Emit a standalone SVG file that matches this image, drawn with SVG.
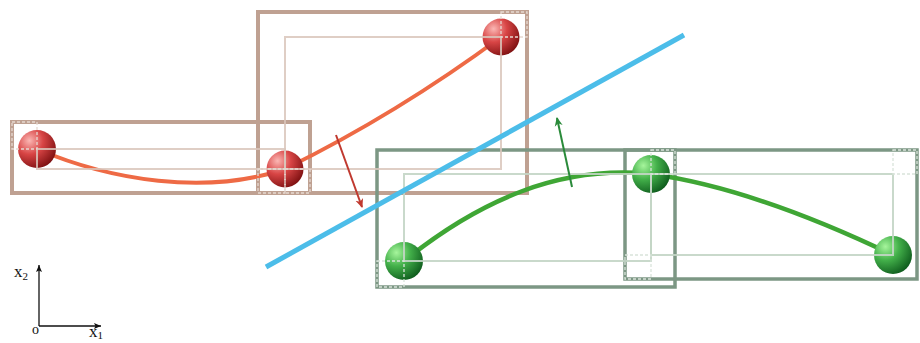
<svg xmlns="http://www.w3.org/2000/svg" width="920" height="343" viewBox="0 0 920 343">
  <style>
    .boxR { fill: none; stroke: #bfa192; stroke-width: 4; }
    .thinR { fill: none; stroke: #d9c6bb; stroke-width: 2; opacity: 0.85; }
    .dashR { fill: none; stroke: #e6d9d1; stroke-width: 1.3; stroke-dasharray: 3 2; }
    .boxG { fill: none; stroke: #7c9784; stroke-width: 3.5; }
    .thinG { fill: none; stroke: #c3d5c5; stroke-width: 2; opacity: 0.9; }
    .dashG { fill: none; stroke: #d9e4da; stroke-width: 1.3; stroke-dasharray: 3 2; }
    .curveR { fill: none; stroke: #ee6a45; stroke-width: 4; stroke-linecap: round; }
    .curveG { fill: none; stroke: #3fa635; stroke-width: 4.5; stroke-linecap: round; }
    .sep { stroke: #4cbde9; stroke-width: 5; }
    .label { font-family: "Liberation Serif", "DejaVu Serif", serif; fill: #111; }
  </style>
  <defs>
    <radialGradient id="ballRed" cx="0.3" cy="0.28" r="0.8">
      <stop offset="0" stop-color="#fbb7b4"/>
      <stop offset="0.45" stop-color="#d84545"/>
      <stop offset="1" stop-color="#7c0f10"/>
    </radialGradient>
    <radialGradient id="ballGreen" cx="0.3" cy="0.28" r="0.8">
      <stop offset="0" stop-color="#a6f59c"/>
      <stop offset="0.45" stop-color="#43b04a"/>
      <stop offset="1" stop-color="#0d5a1c"/>
    </radialGradient>
    <marker id="headR" markerWidth="10" markerHeight="10" refX="8" refY="5" orient="auto" markerUnits="userSpaceOnUse">
      <path d="M0,1 L9,5 L0,9 L2.5,5 Z" fill="#c0392f"/>
    </marker>
    <marker id="headG" markerWidth="10" markerHeight="10" refX="8" refY="5" orient="auto" markerUnits="userSpaceOnUse">
      <path d="M0,1 L9,5 L0,9 L2.5,5 Z" fill="#2a8a3a"/>
    </marker>
    <marker id="headK" markerWidth="8" markerHeight="8" refX="7" refY="4" orient="auto" markerUnits="userSpaceOnUse">
      <path d="M0,1 L7,4 L0,7 L1.5,4 Z" fill="#111"/>
    </marker>
  </defs>

  <!-- outer bounding boxes -->
  <g id="boxes">
    <rect class="boxR" x="12" y="122" width="298" height="71"/>
    <rect class="boxR" x="258" y="12" width="269" height="181"/>
    <rect class="boxG" x="377" y="150" width="298" height="137"/>
    <rect class="boxG" x="625" y="150" width="292" height="129"/>
  </g>

  <!-- trajectories between the bodies -->
  <g id="connectors">
    <path class="curveR" d="M37,149 C110,180 205,196 285,169 C360,132 432,88 501,37"/>
    <path class="curveG" d="M404,261 C480,200 560,165 651,174 C730,185 820,220 893,255"/>
  </g>

  <!-- red bodies -->
  <g id="nodeA"><circle cx="37" cy="149" r="19" fill="url(#ballRed)"/></g>
  <g id="nodeB"><circle cx="285" cy="169" r="18.5" fill="url(#ballRed)"/></g>
  <g id="nodeC"><circle cx="501" cy="37" r="18.5" fill="url(#ballRed)"/></g>
  <!-- green bodies -->
  <g id="nodeD"><circle cx="404" cy="261" r="19" fill="url(#ballGreen)"/></g>
  <g id="nodeE"><circle cx="651" cy="174" r="19" fill="url(#ballGreen)"/></g>
  <g id="nodeF"><circle cx="893" cy="255" r="19" fill="url(#ballGreen)"/></g>

  <!-- inner boxes spanning the body centres, and corner margins -->
  <g id="inner">
    <rect class="thinR" x="37" y="149" width="248" height="20"/>
    <rect class="thinR" x="285" y="37" width="216" height="132"/>
    <rect class="dashR" x="12" y="122" width="25" height="27"/>
    <rect class="dashR" x="285" y="169" width="25" height="24"/>
    <rect class="dashR" x="258" y="169" width="27" height="24"/>
    <rect class="dashR" x="501" y="12" width="26" height="25"/>
    <rect class="thinG" x="404" y="174" width="247" height="87"/>
    <rect class="thinG" x="651" y="174" width="242" height="81"/>
    <rect class="dashG" x="377" y="261" width="27" height="26"/>
    <rect class="dashG" x="651" y="150" width="24" height="24"/>
    <rect class="dashG" x="893" y="150" width="24" height="24"/>
    <rect class="dashG" x="625" y="255" width="26" height="24"/>
  </g>

  <!-- separating line -->
  <g id="separator">
    <line class="sep" x1="266" y1="267" x2="684" y2="35"/>
  </g>

  <!-- normal arrows -->
  <g id="arrows">
    <line x1="336" y1="135" x2="362" y2="207" stroke="#c0392f" stroke-width="2" marker-end="url(#headR)"/>
    <line x1="572" y1="187" x2="557" y2="118" stroke="#2a8a3a" stroke-width="2" marker-end="url(#headG)"/>
  </g>

  <!-- coordinate axes -->
  <g id="axes">
    <line x1="39" y1="326" x2="39" y2="265" stroke="#111" stroke-width="1.3" marker-end="url(#headK)"/>
    <line x1="39" y1="326" x2="101" y2="326" stroke="#111" stroke-width="1.3" marker-end="url(#headK)"/>
    <text class="label" x="14" y="277" font-size="17">x<tspan font-size="11" dy="3">2</tspan></text>
    <text class="label" x="32" y="334" font-size="14">o</text>
    <text class="label" x="89" y="337" font-size="17">x<tspan font-size="11" dy="2">1</tspan></text>
  </g>
</svg>
